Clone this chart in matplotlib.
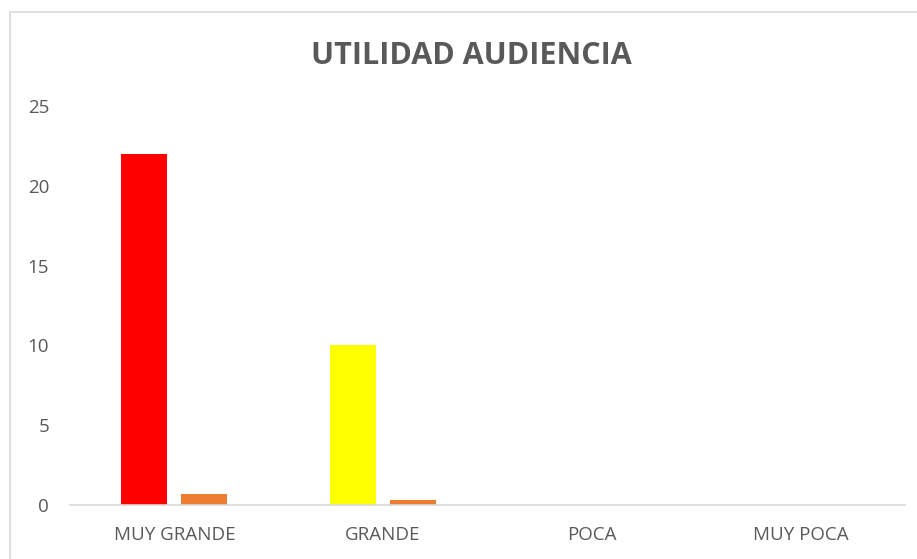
import matplotlib
matplotlib.use("Agg")
import matplotlib.pyplot as plt
from matplotlib.patches import Rectangle
import numpy as np

categories = ["MUY GRANDE", "GRANDE", "POCA", "MUY POCA"]
counts = [22, 10, 0, 0]
shares = [0.6875, 0.3125, 0, 0]
count_colors = ["#FF0000", "#FFFF00", "#00B050", "#0070C0"]

fig = plt.figure(figsize=(9.17, 5.59), dpi=100)
fig.patches.append(Rectangle((10 / 917, -0.05), 1.2, 1 - 12 / 559 + 0.05,
                             transform=fig.transFigure, fill=False,
                             edgecolor="#D9D9D9", linewidth=1.2))
ax = fig.add_axes([70 / 917, 1 - 505 / 559, 835 / 917, 399 / 559])

x = np.arange(len(categories))
ax.bar(x - 0.144, counts, width=0.22, color=count_colors)
ax.bar(x + 0.144, shares, width=0.22, color="#ED7D31")

ax.set_xlim(-0.5, len(categories) - 0.5)
ax.set_ylim(0, 25)
ax.set_yticks(range(0, 26, 5))
ax.set_xticks(x)
ax.set_xticklabels(categories)
ax.tick_params(length=0, colors="#595959", labelsize=13.5)
ax.tick_params(axis="y", pad=15)
ax.tick_params(axis="x", pad=15)
for side in ("top", "right", "left"):
    ax.spines[side].set_visible(False)
ax.spines["bottom"].set_color("#D9D9D9")
ax.spines["bottom"].set_linewidth(1.2)
for lbl in ax.get_xticklabels() + ax.get_yticklabels():
    lbl.set_family("Open Sans")

fig.text(471 / 917, 1 - 56 / 559, "UTILIDAD AUDIENCIA", ha="center",
         va="center", fontsize=22, fontweight="bold", color="#595959",
         family="Open Sans")

fig.savefig("out.png", dpi=100)
